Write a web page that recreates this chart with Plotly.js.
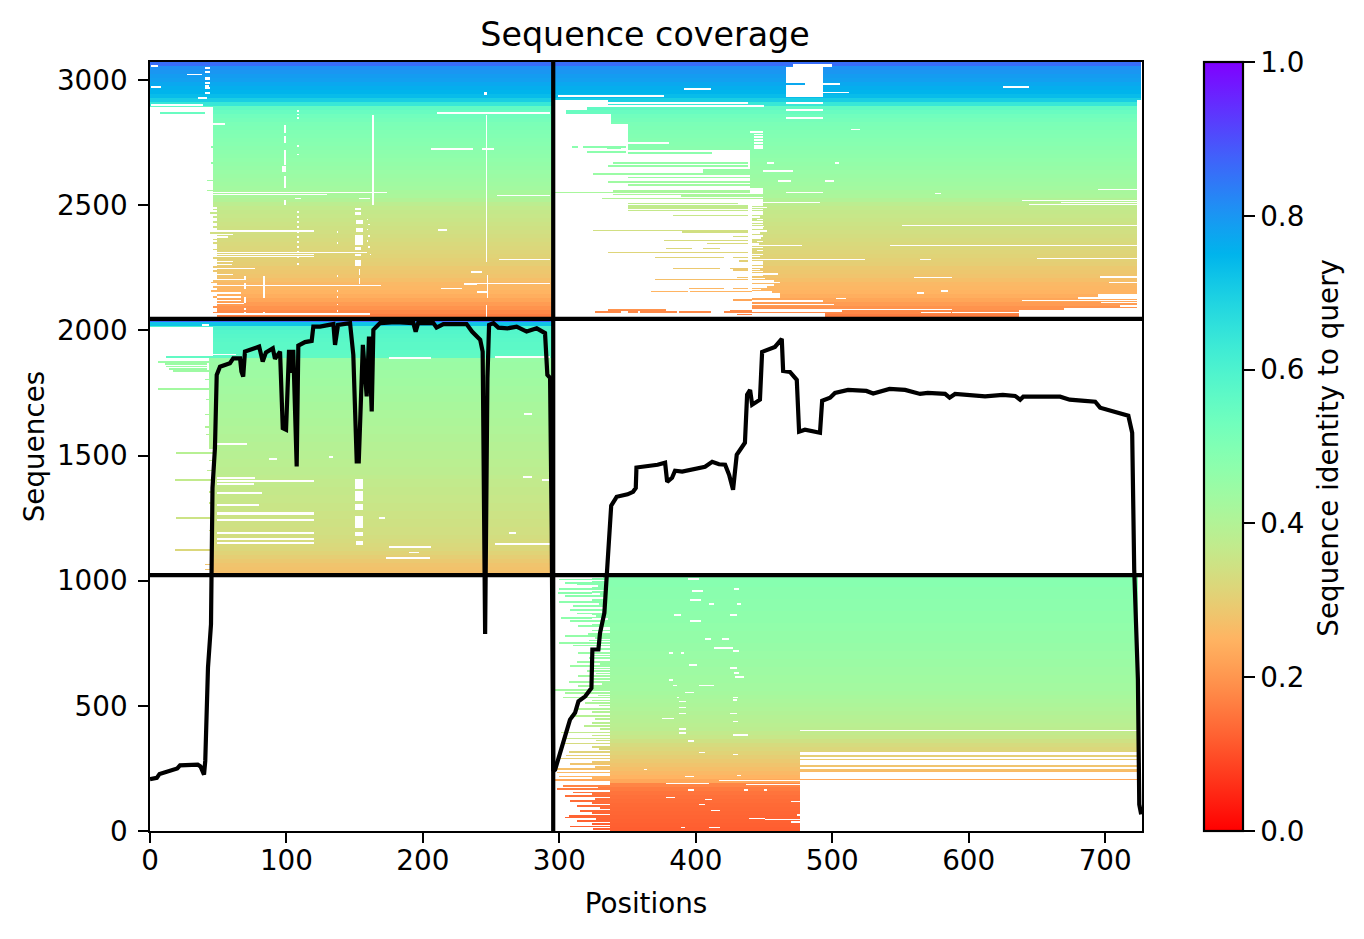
<!DOCTYPE html>
<html><head><meta charset="utf-8">
<script src="https://cdn.plot.ly/plotly-3.0.1.min.js"></script>
<style>html,body{margin:0;padding:0;background:#fff}</style></head>
<body><div id="chart" style="width:1364px;height:939px"></div>
<script>
// Sequence identity read per 16-sequence band, bottom to top
const identityC = [.12,.122,.125,.128,.13,.133,.136,.14,.145,.15,.16,.175,.23,.25,.26,.27,.28,.29,.30,.31,.32,.33,.345,.36,.37,.38,.385,.39,.395,.40,.405,.41,.415,.42,.425,.43,.43,.435,.435,.44,.44,.445,.445,.45,.45,.455,.455,.46,.46,.46,.465,.465,.47,.47,.47,.475,.475,.475,.48,.48,.48,.485,.485,.49];
const identityB = [.27,.275,.28,.29,.30,.31,.32,.325,.33,.335,.34,.34,.345,.345,.35,.35,.355,.355,.36,.36,.365,.365,.37,.37,.375,.38,.38,.385,.385,.39,.39,.395,.395,.40,.40,.405,.405,.41,.41,.415,.415,.42,.42,.425,.425,.43,.43,.435,.435,.44,.44,.445,.445,.45,.56,.565,.57,.57,.575,.58,.585,.60,.72,.87];
const identityA = [.165,.18,.195,.21,.225,.24,.25,.255,.26,.27,.28,.285,.29,.30,.305,.31,.315,.32,.325,.33,.335,.34,.345,.35,.355,.36,.365,.37,.38,.40,.415,.42,.43,.435,.44,.445,.45,.455,.46,.465,.47,.475,.48,.485,.49,.495,.50,.505,.51,.52,.53,.545,.56,.64,.70,.735,.75,.76,.77,.785,.79,.80,.81,.86];

// Covered blocks: [seq low, seq high, first position, last position]
const coverBlocks = [
 [2892,3072,0,295],[2500,2892,46,295],[2048,2500,49,295],
 [2920,3072,296,726],[2900,2920,336,723],[2880,2900,320,723],[2866,2880,305,723],[2825,2866,338,723],[2720,2825,350,723],[2570,2720,440,723],[2500,2570,449,723],[2048,2500,441,723],
 [2015,2048,0,295],[1893,2015,46,295],[1530,1893,43,295],[1024,1530,46,295],
 [820,1024,324,724],[311,820,337,724],[0,311,337,476],
 [296,305,476,724],[282,290,476,724],[257,265,476,724],[235,247,476,724],[218,222,476,724],[203,207,476,724]
];
// Partly covered single rows: [seq, first position, last position]
const coverLines = [
 [2867,7,40],[2731,309,314],[2731,317,349],[2725,335,345],[2711,320,349],[2705,350,412],[2667,339,438],[2655,336,438],[2638,405,440],[2630,405,440],[2621,325,440],[2608,350,440],[2589,336,440],[2577,350,440],[2555,339,440],[2548,297,440],[2540,339,449],[2533,389,449],[2524,331,449],[2504,350,431],[2493,350,438],[2485,350,438],[2476,350,438],[2456,383,438],[2396,325,438],[2390,390,438],[2372,427,438],[2356,377,438],[2344,408,438],[2324,378,397],[2324,405,418],[2308,336,438],[2288,370,421],[2288,427,438],[2275,432,438],[2244,383,418],[2244,425,438],[2238,427,438],[2208,430,438],[2200,370,438],[2164,395,421],[2164,427,438],[2152,367,394],[2152,396,446],[2119,427,446],[2079,336,378],[2069,326,345],[2069,350,358],[2069,359,386],[2069,388,411],[2069,421,441],[2073,425,446],[2060,430,444],
 [2731,45,46],[2667,45,46],[2596,42,46],[2556,42,46],[2188,45,49],[2153,45,49],[2495,46,49],[2480,46,49],[2465,44,49],[2450,46,49],[2430,46,49],[2410,46,49],[2385,44,49],[2360,46,49],[2345,46,49],[2320,46,49],[2285,46,49],[2250,46,49],[2235,46,49],[2195,46,49],[2170,46,49],[2130,46,49],[2090,46,49],[2066,46,49],
 [1889,12,46],[1869,6,46],[1862,11,42],[1852,12,42],[1842,14,42],[1833,17,43],[1761,6,43],[1510,19,46],[1402,18,46],[1250,19,46],[1122,18,46],[1064,40,46],[1044,40,46],[1800,40,43],[1720,41,43],[1660,40,43],[1610,40,43],[1580,41,43],[1480,43,46],[1440,42,46],[1355,43,46],[1310,43,46],[1200,43,46],
 [1004,300,324],[991,304,324],[984,313,324],[967,300,324],[951,299,324],[937,304,324],[915,300,324],[898,310,324],[882,308,324],[868,313,324],[851,301,324],[838,308,324],[818,314,337],[787,321,337],[778,304,337],[751,300,337],[740,310,337],[711,314,337],[691,322,337],[675,313,337],[658,308,337],[638,320,337],[618,314,337],[595,307,337],[578,314,337],[563,297,337],[549,304,337],[532,303,337],[511,319,337],[485,314,337],[458,308,337],[418,318,337],[392,301,337],[368,302,337],[348,301,337],[314,307,337],[300,305,337],[288,300,337],[265,308,337],[245,297,337],[232,298,337],[216,300,337],[201,297,337],
 [179,303,337],[165,298,337],[152,310,337],[139,304,337],[119,308,337],[99,313,337],[79,315,337],[59,307,337],[52,304,337],[39,313,337],[16,308,337],[6,325,337],
 [800,324,337],[770,326,337],[760,322,337],[725,328,337],[700,324,337],[665,330,337],[648,324,337],[628,327,337],[605,324,337],[585,331,337],[570,324,337],[540,328,337],[520,324,337],[500,329,337],[475,324,337],[445,326,337],[430,324,337],[405,330,337],[380,324,337],[360,327,337],[335,324,337],[325,329,337],[275,324,337],[255,326,337],[210,324,337],[172,328,337],[145,324,337],[125,326,337],[110,324,337],[90,330,337],[70,324,337],[45,327,337],[25,324,337]
];
// Missing single rows: [seq, first position, last position]
const gapLines = [
 [3053,1,6],[3020,27,38],[2971,1,8],[3047,40,44],[3030,40,44],[2985,40,44],[2975,40,43],[2965,40,44],[2945,40,44],[2898,1,39],
 [2867,210,293],[2823,46,55],[2723,206,237],[2723,243,252],[2548,46,174],[2540,46,130],[2536,254,293],[2524,106,111],[2524,153,161],[2393,49,120],[2397,211,218],[2380,49,61],[2370,49,57],[2308,49,159],[2300,49,120],[2292,49,120],[2280,256,293],[2272,49,61],[2260,49,60],[2244,49,77],[2220,49,61],[2200,49,70],[2184,230,293],[2176,49,169],[2164,213,229],[2145,49,67],[2130,49,67],[2116,49,67],[2104,49,69],[2062,46,161],[2230,235,243],[2180,230,240],[2150,240,247],
 [2875,108,109],[2860,108,109],[2845,108,109],[2735,108,109],[2700,108,109],[2470,108,109],[2450,108,109],[2430,108,109],[2410,108,109],[2390,108,109],[2370,108,109],[2350,108,109],[2330,108,109],[2310,108,109],[2290,108,109],[2262,108,109],[2440,159,160],[2420,160,161],[2400,159,160],[2375,160,161],[2355,159,160],[2330,160,161],[2300,161,162],[2390,137,138],[2345,137,138],[2215,137,138],[2155,137,138],[2130,137,138],[2100,137,138],[2075,137,138],
 [2971,625,644],[2963,391,411],[2935,299,377],[2907,336,438],[2895,317,450],[2800,514,520],[2747,350,380],[2560,695,723],[2544,575,580],[2516,639,723],[2508,668,723],[2500,644,723],[2416,551,723],[2336,542,723],[2336,439,478],[2284,650,723],[2280,441,524],[2280,564,572],[2208,560,588],[2188,703,723],[2210,696,723],[2548,466,493],[2508,439,491],[2593,460,470],[2593,495,501],[2635,449,471],[2667,452,457],[2667,502,505],[2221,441,460],[2195,441,457],[2188,441,462],[2178,441,457],[2907,466,493],[2877,466,493],[2845,466,493],[2145,562,567],[2155,580,585],[2116,639,723],[2108,697,723],[2095,711,723],[2125,680,723],[2138,695,723],[2132,695,723],[2124,503,510],
 [2142,441,462],[2136,441,462],[2130,441,462],[2113,441,493],[2100,441,501],[2080,441,588],[2073,441,507],[2068,565,587],[2068,588,638],[2790,440,449],[2780,443,449],[2770,443,449],[2757,443,449],[2745,443,449],[2735,443,449],[2725,443,449],
 [2496,441,449],[2488,441,452],[2480,438,449],[2470,441,449],[2462,438,449],[2450,441,447],[2440,445,449],[2430,441,449],[2420,438,449],[2412,441,450],[2405,440,449],[2395,441,452],[2385,441,447],[2375,440,449],[2365,441,448],[2352,445,449],[2342,441,446],[2328,440,449],[2316,445,449],[2300,440,449],[2292,441,447],[2270,441,449],[2262,438,449],[2250,438,449],[2240,441,447],[2232,438,449],[2218,435,449],[2204,441,451],[2192,440,449],[2170,441,452],[2160,441,448],[2150,441,456],
 [1900,46,63],[1885,175,206],[1889,253,293],[2018,38,43],[1542,49,71],[1486,87,93],[1494,131,134],[1410,49,77],[1399,49,120],[1386,49,76],[1350,49,82],[1302,49,80],[1271,49,120],[1267,49,120],[1242,49,120],[1190,49,120],[1166,49,120],[1150,49,120],[1134,175,206],[1090,173,205],[1146,253,293],[1414,273,280],[1403,287,293],[1661,274,280],[1250,168,172],[1190,263,268],[1112,190,197],
 [1007,394,402],[967,428,432],[959,397,405],[923,396,404],[907,410,413],[907,430,433],[863,384,389],[863,425,430],[839,396,404],[767,407,411],[767,419,424],[731,413,427],[718,427,432],[711,380,383],[711,389,391],[663,395,401],[651,425,430],[629,428,432],[615,429,435],[603,380,383],[580,402,413],[580,383,386],[552,392,399],[532,386,388],[532,427,431],[521,427,430],[516,388,393],[492,388,393],[468,388,393],[468,425,430],[448,375,384],[436,427,431],[405,388,393],[389,388,393],[381,427,438],[357,394,399],[312,402,407],[304,427,431],[244,362,364],[216,392,399],[220,430,433],
 [1015,324,332],[1000,324,336],[978,324,328],[960,324,335],[945,324,330],[930,324,333],[905,324,329],[890,324,334],[875,324,331],[858,324,327],[845,324,336],[830,324,330],
 [200,417,476],[188,378,410],[184,437,476],[161,394,399],[161,435,438],[161,450,452],[132,378,385],[124,407,412],[104,402,407],[116,470,476],[80,411,418],[48,439,451],[44,451,476],[12,389,392],[12,410,418],[34,470,476],[61,474,476],
 [400,476,724],[310,476,724]
];
// Missing blocks: [seq low, seq high, first position, last position]
const gapBlocks = [
 [2925,2932,35,42],[3000,3010,40,44],
 [2275,2860,246,247],[2940,2950,245,247],[2500,2860,163,164],
 [2790,2820,98,100],[2750,2775,98,100],[2695,2720,98,100],[2660,2690,98,100],[2635,2655,97,100],[2570,2615,98,100],[2500,2517,98,100],
 [2480,2485,150,155],[2462,2470,150,155],[2427,2440,151,156],[2395,2408,151,156],[2340,2380,150,156],[2320,2330,150,155],[2297,2302,150,155],[2258,2278,150,155],[2222,2242,153,154],[2184,2205,153,154],
 [2200,2215,69,70],[2165,2185,69,70],[2110,2130,69,70],[2080,2085,69,70],[2065,2070,69,70],[2130,2215,83,84],[2060,2070,83,84],[2050,2100,246,247],[2130,2220,247,248],
 [3053,3064,471,500],[3024,3052,466,493],[2989,3022,466,493],[2980,2988,480,506],[2951,2979,466,493],[2949,2950,481,512],[2932,2948,466,493],
 [2055,2080,637,723],[2080,2087,670,723],[2055,2065,441,495],
 [2890,2900,296,320],[2866,2880,296,305],
 [0,202,476,727],[208,217,476,727],[223,234,476,727],[248,256,476,727],[266,281,476,727],[291,295,476,727],[306,309,476,727],
 [1370,1405,150,156],[1320,1360,150,156],[1285,1305,150,156],[1215,1260,150,156],[1180,1195,150,156],[1145,1160,151,156]
];
// Separators of the two chains
const dividerSeq = [1022, 2046];
const dividerPos = [295.5];
const axisMaxPos = 727;
const axisMaxSeq = 3072;

// Coverage curve
const coveragePos = [0,5,7,12,17,20,22,30,35,37,38,39.6,40.5,42.5,44.7,45.3,45.8,47.6,48.9,51.3,58.6,61,66,67,68.3,69.6,75.6,80,82.6,85,90,91.6,95.3,97.3,99.7,101.9,103.4,105,107.5,108.7,113.6,118.5,119.7,124.6,134.4,135.6,137.8,146.6,149,151.5,153,156,158.8,160.5,162.5,163.7,168.6,180,193,194.7,196.5,207.7,210,215,232,236,242,243.8,245.6,247.3,248.5,251.7,255.3,262,268.7,276,283.4,289.5,291.2,293.2,294.4,295.5,296.9,303,307.8,311.5,314,319,323.5,324.2,328.6,329.8,333,334.7,338,342,350,354,356,356.5,362,366.5,372,377.5,379,382.6,384.8,390,395.8,401,406.8,412,417,421.5,424.4,427.3,430,436,437.6,439.8,441.3,447,448.6,458,463,464,469,474,475.7,480,491,492.6,498.4,502,511.6,525,530,542,553.4,564.4,570,582.7,586,590,600,612,625,634,637.7,640,667,674,685,692.7,696.3,707,717,719.8,721.3,724,725,726.4];
const coverageSeq = [207,212,228,238,245,250,262,265,265,258,240,225,280,653,825,1024,1370,1530,1822,1855,1869,1888,1888,1835,1815,1915,1925,1935,1875,1912,1928,1886,1915,1609,1603,1922,1830,1922,1456,1939,1953,1958,2015,2015,2025,1942,2022,2029,1902,1476,1476,1942,1736,1975,1676,2002,2029,2033,2029,1995,2029,2029,2011,2025,2025,1995,1962,1915,787,1810,2022,2029,2011,2008,2015,1995,2008,1989,1822,1810,1200,240,245,365,445,472,518,538,571,725,725,791,871,1017,1300,1335,1345,1355,1370,1452,1455,1459,1463,1471,1395,1411,1439,1436,1443,1447,1455,1475,1465,1463,1423,1363,1503,1551,1743,1762,1703,1723,1914,1934,1966,1838,1834,1802,1595,1603,1591,1719,1731,1750,1762,1758,1748,1766,1762,1746,1750,1746,1731,1746,1742,1736,1742,1738,1723,1735,1735,1723,1718,1715,1691,1675,1659,1591,1044,605,106,66];

const titleText = "Sequence coverage";
const xTitle = "Positions";
const yTitle = "Sequences";
const barTitle = "Sequence identity to query";

// Matplotlib rainbow_r colormap
const rainbowScale = [];
for (let i = 0; i <= 32; i++) {
  const v = i / 32, t = 1 - v;
  const r = Math.min(1, Math.abs(2 * t - 0.5)), g = Math.sin(Math.PI * t), b = Math.cos(Math.PI * t / 2);
  rainbowScale.push([v, `rgb(${Math.round(r*255)},${Math.round(g*255)},${Math.round(Math.max(0,b)*255)})`]);
}

const identityAll = identityC.concat(identityB, identityA);
const rowStep = 4;
const nRows = axisMaxSeq / rowStep;
const z = [];
for (let r = 0; r < nRows; r++) z.push(new Array(axisMaxPos).fill(null));
const idOfRow = r => identityAll[Math.floor(r * rowStep / 16)];
function setBlock(s0, s1, p0, p1, on) {
  const top = Math.min(nRows, Math.ceil(s1 / rowStep));
  for (let r = Math.floor(s0 / rowStep); r < top; r++)
    for (let p = p0; p < Math.min(p1, axisMaxPos); p++) z[r][p] = on ? idOfRow(r) : null;
}
coverBlocks.forEach(b => setBlock(b[0], b[1], b[2], b[3], true));
coverLines.forEach(l => setBlock(l[0], l[0] + rowStep, l[1], l[2], true));
gapBlocks.forEach(b => setBlock(b[0], b[1], b[2], b[3], false));
gapLines.forEach(l => setBlock(l[0], l[0] + rowStep, l[1], l[2], false));

const fam = "DejaVu Sans, sans-serif";
const black = "#000000";
const lineOpts = { color: black, width: 4.2 };
const traces = [
  { type: "heatmap", z: z, x0: 0.5, dx: 1, y0: rowStep / 2, dy: rowStep, zmin: 0, zmax: 1,
    colorscale: rainbowScale, hoverinfo: "skip", zsmooth: false,
    colorbar: { x: 1.0625, xanchor: "left", y: 0, yanchor: "bottom", len: 1, lenmode: "fraction",
      thickness: 39, thicknessmode: "pixels", xpad: 0, ypad: 0, outlinecolor: black, outlinewidth: 2.2,
      ticks: "outside", ticklen: 11, tickwidth: 2.2, tickcolor: black, tick0: 0, dtick: 0.2, tickformat: ".1f",
      tickfont: { family: fam, size: 27.8, color: black } } },
  { type: "scatter", mode: "lines", x: coveragePos, y: coverageSeq, line: lineOpts, hoverinfo: "skip", showlegend: false },
  { type: "scatter", mode: "lines", x: [dividerPos[0], dividerPos[0]], y: [0, axisMaxSeq], line: lineOpts, hoverinfo: "skip", showlegend: false },
  { type: "scatter", mode: "lines", x: [0, axisMaxPos], y: [dividerSeq[0], dividerSeq[0]], line: lineOpts, hoverinfo: "skip", showlegend: false },
  { type: "scatter", mode: "lines", x: [0, axisMaxPos], y: [dividerSeq[1], dividerSeq[1]], line: lineOpts, hoverinfo: "skip", showlegend: false }
];
const axisCommon = { showgrid: false, zeroline: false, showline: true, mirror: true, linecolor: black, linewidth: 2.2,
  ticks: "outside", ticklen: 9.7, tickwidth: 2.2, tickcolor: black, tickfont: { family: fam, size: 27.8, color: black } };
const layout = {
  width: 1364, height: 939, autosize: false, showlegend: false,
  paper_bgcolor: "#ffffff", plot_bgcolor: "#ffffff",
  margin: { l: 150, r: 222, t: 62, b: 107.5, pad: 0 },
  title: { text: titleText, font: { family: fam, size: 33.3, color: black }, x: 645 / 1364, xanchor: "center", y: 1 - 34.5 / 939, yanchor: "middle" },
  xaxis: Object.assign({}, axisCommon, { range: [0, axisMaxPos], tick0: 0, dtick: 100, ticklabelstandoff: -6, title: { text: xTitle, standoff: 17, font: { family: fam, size: 27.8, color: black } } }),
  yaxis: Object.assign({}, axisCommon, { range: [0, axisMaxSeq], tick0: 0, dtick: 500, ticklabelstandoff: 5, title: { text: yTitle, standoff: 4, font: { family: fam, size: 27.8, color: black } } }),
  annotations: [{ text: barTitle, textangle: -90, showarrow: false, xref: "paper", yref: "paper",
    x: (1329 - 150) / 992, y: (831.5 - 448) / 769.5, xanchor: "center", yanchor: "middle",
    font: { family: fam, size: 27.8, color: black } }]
};
Plotly.newPlot("chart", traces, layout, { displayModeBar: false, responsive: false });
</script></body></html>
